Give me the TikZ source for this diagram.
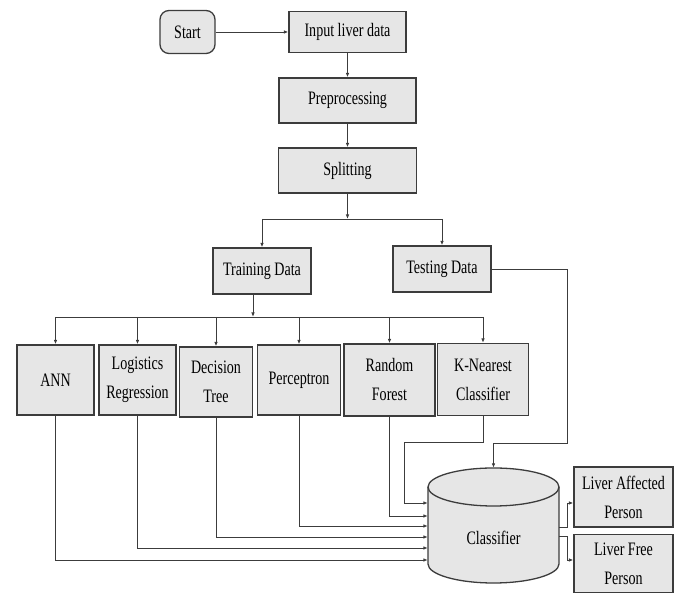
\documentclass[tikz,border=0pt]{standalone}
\usepackage{fontspec}
\setmainfont{Liberation Serif}[FakeStretch=0.74]
\usetikzlibrary{arrows.meta}
\definecolor{boxgray}{RGB}{230,230,230}
\definecolor{edge}{RGB}{60,60,60}
\begin{document}
\begin{tikzpicture}[x=1pt,y=1pt,
  box/.style={draw=edge, line width=1.3pt, fill=boxgray, inner sep=1pt, align=center,
    font=\fontsize{19}{29}\selectfont},
  ln/.style={draw=edge, line width=0.9pt},
  arr/.style={ln, -{Latex[length=4.5pt,width=3.6pt]}}]
\useasboundingbox (0,0) rectangle (681,594);

% top chain
\node[box, rounded corners=9pt, minimum width=55pt, minimum height=43pt] (start) at (187.5,562) {Start};
\node[box, minimum width=117pt, minimum height=41pt] (input) at (347.5,562) {Input liver data};
\node[box, minimum width=137pt, minimum height=45pt] (pre) at (347.5,493.5) {Preprocessing};
\node[box, minimum width=138pt, minimum height=45pt] (split) at (347.5,423.5) {Splitting};
\draw[arr] (start) -- (input);
\draw[arr] (input) -- (pre);
\draw[arr] (pre) -- (split);

% split
\coordinate (j1) at (347.5,375);
\node[box, minimum width=98pt, minimum height=46pt] (train) at (262,323) {Training Data};
\node[box, minimum width=98pt, minimum height=46pt] (test) at (442,325) {Testing Data};
\draw[arr] (split) -- (j1);
\draw[ln] (train.north |- j1) -- (test.north |- j1);
\draw[arr] (train.north |- j1) -- (train.north);
\draw[arr] (test.north |- j1) -- (test.north);

% models
\coordinate (j2) at (253,277);
\node[box, minimum width=77pt, minimum height=70pt] (ann) at (55.5,214) {ANN};
\node[box, minimum width=77pt, minimum height=70pt] (logr) at (137.5,214) {Logistics\\Regression};
\node[box, minimum width=73pt, minimum height=70pt] (dt) at (216,212) {Decision\\Tree};
\node[box, minimum width=83pt, minimum height=70pt] (perc) at (299,214) {Perceptron};
\node[box, minimum width=91pt, minimum height=72pt] (rf) at (389.5,214) {Random\\Forest};
\node[box, minimum width=91pt, minimum height=72pt] (knn) at (483,214.5) {K-Nearest\\Classifier};
\draw[arr] (j2 |- train.south) -- (j2);
\draw[ln] (ann.north |- j2) -- (knn.north |- j2);
\foreach \n in {ann,logr,dt,perc,rf,knn}
  \draw[arr] (\n.north |- j2) -- (\n.north);

% classifier cylinder
\node[minimum width=131pt, minimum height=115pt, inner sep=0pt] (cls) at (493.5,68.5) {};
\draw[draw=edge, line width=1.3pt, fill=boxgray]
  (428,107) -- (428,30) arc[start angle=180, end angle=360, x radius=65.5, y radius=19]
  -- (559,107) arc[start angle=0, end angle=180, x radius=65.5, y radius=19] -- cycle;
\draw[draw=edge, line width=1.3pt]
  (428,107) arc[start angle=180, end angle=360, x radius=65.5, y radius=19];
\node[font=\fontsize{19}{29}\selectfont] (clstext) at (493.5,56) {Classifier};

% model outputs into classifier
\draw[arr] (ann.south) -- (ann.south |- 0,34) -- (cls.west |- 0,34);
\draw[arr] (logr.south) -- (logr.south |- 0,46) -- (cls.west |- 0,46);
\draw[arr] (dt.south) -- (dt.south |- 0,57) -- (cls.west |- 0,57);
\draw[arr] (perc.south) -- (perc.south |- 0,68) -- (cls.west |- 0,68);
\draw[arr] (rf.south) -- (rf.south |- 0,78) -- (cls.west |- 0,78);
\coordinate (k1) at (404,152);
\draw[arr] (knn.south) -- (knn.south |- k1) -- (k1) -- (k1 |- 0,91) -- (cls.west |- 0,91);
\coordinate (t1) at (567,151);
\draw[arr] (test.east) -| (t1) -| (cls.north);

% results
\node[box, minimum width=99pt, minimum height=60pt] (aff) at (623.5,97) {Liver Affected\\Person};
\node[box, minimum width=99pt, minimum height=58pt] (free) at (623.5,30.5) {Liver Free\\Person};
\coordinate (r1) at (567,67);
\coordinate (r2) at (567,58);
\draw[arr] (cls.east |- r1) -- (r1) -- (r1 |- 0,91) -- (aff.west |- 0,91);
\draw[arr] (cls.east |- r2) -- (r2) -- (r2 |- 0,34) -- (free.west |- 0,34);
\end{tikzpicture}
\end{document}
